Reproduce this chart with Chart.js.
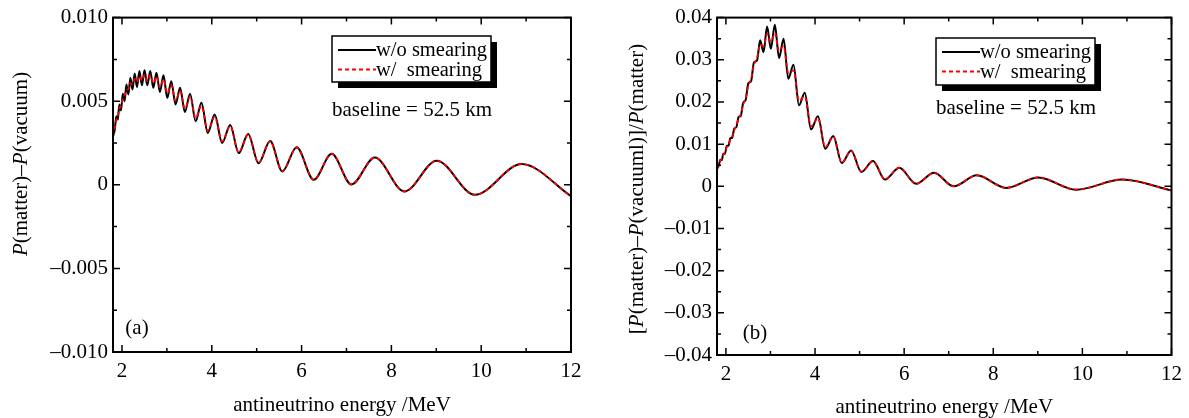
<!DOCTYPE html>
<html>
<head>
<meta charset="utf-8">
<script src="https://cdn.jsdelivr.net/npm/chart.js@4.4.0/dist/chart.umd.min.js"></script>
<style>
    html, body { margin: 0; padding: 0; background: #fff; }
    #wrap { position: relative; width: 1189px; height: 418px; }
    canvas { position: absolute; top: 0; }
</style>
</head>
<body>
<div id="wrap">
    <canvas id="chartA" width="594" height="418" style="left:0"></canvas>
    <canvas id="chartB" width="595" height="418" style="left:594px"></canvas>
</div>
<script>
// Antineutrino energy (MeV), read at the oscillation extrema
const energy = [1.80, 1.840, 1.873, 1.907, 1.942, 1.979, 2.018, 2.058, 2.099, 2.142,
    2.187, 2.234, 2.283, 2.334, 2.388, 2.444, 2.502, 2.564, 2.629, 2.697,
    2.768, 2.844, 2.924, 3.008, 3.098, 3.193, 3.294, 3.40, 3.516, 3.64,
    3.77, 3.91, 4.065, 4.23, 4.41, 4.60, 4.81, 5.04, 5.30, 5.57,
    5.89, 6.27, 6.67, 7.11, 7.63, 8.29, 9.01, 9.86, 10.90, 12.0];

// (a) P(matter) - P(vacuum)
const diffNoSmear = [0.0029, 0.0033, 0.0041, 0.0039, 0.0048, 0.00445, 0.00545, 0.0050, 0.0060, 0.0054,
    0.0064, 0.0057, 0.00665, 0.00585, 0.0068, 0.00595, 0.00685, 0.00595, 0.0068, 0.0058,
    0.0067, 0.00555, 0.00655, 0.0052, 0.0062, 0.0048, 0.0058, 0.00435, 0.00545, 0.0038,
    0.0049, 0.0031, 0.0042, 0.0025, 0.00357, 0.00189, 0.00304, 0.00129, 0.00262, 0.0008,
    0.00224, 0.0003, 0.00185, 0.00002, 0.00163, -0.0004, 0.00144, -0.0006, 0.00124, -0.00068];
const diffSmear = [0.0029, 0.0034, 0.00386, 0.00414, 0.00456, 0.00473, 0.00517, 0.00532, 0.00568, 0.00572,
    0.00608, 0.0060, 0.00634, 0.00616, 0.00651, 0.00624, 0.00658, 0.00621, 0.00657, 0.00607,
    0.00647, 0.00582, 0.0063, 0.00547, 0.00596, 0.00503, 0.00561, 0.00456, 0.00526, 0.0040,
    0.00472, 0.00324, 0.00407, 0.0026, 0.0035, 0.00195, 0.0030, 0.00133, 0.0026, 0.00082,
    0.00223, 0.0003, 0.00185, 0.00002, 0.00163, -0.0004, 0.00144, -0.0006, 0.00124, -0.00068];

// (b) [P(matter) - P(vacuum)] / P(matter)
const ratioNoSmear = [0.0042, 0.0049, 0.0063, 0.0062, 0.0077, 0.0077, 0.0096, 0.0096, 0.0114, 0.0115,
    0.0137, 0.0140, 0.0164, 0.0167, 0.0198, 0.0205, 0.0244, 0.0249, 0.0294, 0.0298,
    0.0346, 0.0318, 0.0379, 0.0326, 0.0383, 0.0304, 0.0350, 0.0255, 0.0288, 0.0192,
    0.0222, 0.0135, 0.0166, 0.0089, 0.0119, 0.0055, 0.0085, 0.0034, 0.0060, 0.0016,
    0.0044, 0.0006, 0.0032, 0.0000, 0.0026, -0.0004, 0.0021, -0.0008, 0.0016, -0.0010];
const ratioSmear = [0.0042, 0.0052, 0.0060, 0.0065, 0.0074, 0.0080, 0.0093, 0.0099, 0.0111, 0.0119,
    0.0133, 0.0144, 0.0160, 0.0171, 0.0194, 0.0209, 0.0239, 0.0254, 0.0288, 0.0304,
    0.0336, 0.0332, 0.0362, 0.0343, 0.0363, 0.0321, 0.0333, 0.0269, 0.0275, 0.0203,
    0.0213, 0.0142, 0.0161, 0.0093, 0.0117, 0.0056, 0.0084, 0.0035, 0.0059, 0.0017,
    0.0044, 0.0006, 0.0032, 0.0000, 0.0026, -0.0004, 0.0021, -0.0008, 0.0016, -0.0010];

// Tick values
const xTicks = [2, 4, 6, 8, 10, 12];
const xMinorTicks = [3, 5, 7, 9, 11];
const yTicksA = [-0.010, -0.005, 0, 0.005, 0.010];
const yMinorA = [-0.0075, -0.0025, 0.0025, 0.0075];
const yTicksB = [-0.04, -0.03, -0.02, -0.01, 0, 0.01, 0.02, 0.03, 0.04];
const yMinorB = [-0.035, -0.025, -0.015, -0.005, 0.005, 0.015, 0.025, 0.035];

const seriesLabels = ['w/o smearing', 'w/  smearing'];
const FONT = '"Liberation Serif", "DejaVu Serif", serif';
const TXT = '21px ' + FONT;

function fmt(v, digits) {
    if (Math.abs(v) < 1e-9) return '0';
    return (v < 0 ? '\u2013' : '') + Math.abs(v).toFixed(digits);
}

function toPoints(ys) {
    return energy.map((e, i) => ({ x: e, y: ys[i] }));
}

// Draws frame, inward ticks on all four sides, titles, legend box and notes
const decorPlugin = {
    id: 'decor',
    afterDraw(chart) {
        const o = chart.options.plugins.decor;
        const ctx = chart.ctx;
        const a = chart.chartArea;
        const xs = chart.scales.x, ys = chart.scales.y;
        ctx.save();
        ctx.strokeStyle = '#000';

        // tick marks
        ctx.lineWidth = 1.5;
        ctx.beginPath();
        const xt = (v, len) => {
            const p = xs.getPixelForValue(v);
            ctx.moveTo(p, a.bottom); ctx.lineTo(p, a.bottom - len);
            ctx.moveTo(p, a.top); ctx.lineTo(p, a.top + len);
        };
        const yt = (v, len) => {
            const p = ys.getPixelForValue(v);
            ctx.moveTo(a.left, p); ctx.lineTo(a.left + len, p);
            ctx.moveTo(a.right, p); ctx.lineTo(a.right - len, p);
        };
        xTicks.forEach(v => xt(v, 7));
        xMinorTicks.forEach(v => xt(v, 4));
        o.yMajor.forEach(v => yt(v, 7));
        o.yMinor.forEach(v => yt(v, 4));
        ctx.stroke();

        // frame
        ctx.lineWidth = 2;
        ctx.strokeRect(a.left, a.top, a.right - a.left, a.bottom - a.top);

        ctx.fillStyle = '#000';
        ctx.textBaseline = 'middle';

        // x title
        ctx.font = TXT;
        ctx.textAlign = 'center';
        ctx.fillText('antineutrino energy /MeV', (a.left + a.right) / 2, o.xTitleY);

        // y title with italic P
        ctx.save();
        ctx.translate(o.yTitleX, o.yTitleY);
        ctx.rotate(-Math.PI / 2);
        let total = 0;
        o.yTitle.forEach(seg => {
            ctx.font = (seg.italic ? 'italic ' : '') + TXT;
            total += ctx.measureText(seg.t).width;
        });
        let cx = -total / 2;
        ctx.textAlign = 'left';
        o.yTitle.forEach(seg => {
            ctx.font = (seg.italic ? 'italic ' : '') + TXT;
            ctx.fillText(seg.t, cx, 0);
            cx += ctx.measureText(seg.t).width;
        });
        ctx.restore();

        // legend box with shadow
        const b = o.legend;
        ctx.fillStyle = '#000';
        ctx.fillRect(b.x + 6, b.y + 6, b.w, b.h);
        ctx.fillStyle = '#fff';
        ctx.fillRect(b.x, b.y, b.w, b.h);
        ctx.lineWidth = 1.5;
        ctx.strokeRect(b.x, b.y, b.w, b.h);
        [0, 1].forEach(i => {
            const ds = chart.data.datasets[i];
            const y = b.y + 14 + i * 19.5;
            ctx.strokeStyle = ds.borderColor;
            ctx.lineWidth = ds.borderWidth;
            ctx.setLineDash(ds.borderDash || []);
            ctx.beginPath();
            ctx.moveTo(b.x + 6, y); ctx.lineTo(b.x + 44, y);
            ctx.stroke();
            ctx.setLineDash([]);
            ctx.fillStyle = '#000';
            ctx.font = '20.5px ' + FONT;
            ctx.textAlign = 'left';
            ctx.fillText(ds.label, b.x + 44, y + 1);
        });

        // notes
        ctx.fillStyle = '#000';
        ctx.font = TXT;
        ctx.textAlign = 'center';
        ctx.fillText('baseline = 52.5 km', o.baseline.x, o.baseline.y);
        ctx.fillText(o.panel.t, o.panel.x, o.panel.y);
        ctx.restore();
    }
};

function makeChart(id, noSmear, smear, yMin, yMax, yMajor, yMinor, digits, dims, decor) {
    const ctx = document.getElementById(id).getContext('2d');
    return new Chart(ctx, {
        type: 'line',
        data: {
            datasets: [
                {
                    label: seriesLabels[0],
                    data: toPoints(noSmear),
                    borderColor: '#000',
                    borderWidth: 2,
                    pointRadius: 0,
                    order: 2,
                    cubicInterpolationMode: 'monotone'
                },
                {
                    label: seriesLabels[1],
                    data: toPoints(smear),
                    borderColor: '#ff0000',
                    borderWidth: 1.8,
                    borderDash: [4, 3],
                    pointRadius: 0,
                    order: 1,
                    cubicInterpolationMode: 'monotone'
                }
            ]
        },
        options: {
            responsive: false,
            animation: false,
            devicePixelRatio: 1,
            layout: { padding: { left: 0, top: dims.top, right: dims.right, bottom: 0 } },
            plugins: {
                legend: { display: false },
                tooltip: { enabled: false },
                decor: Object.assign({ yMajor: yMajor, yMinor: yMinor }, decor)
            },
            scales: {
                x: {
                    type: 'linear',
                    min: 1.8,
                    max: 12,
                    grid: { display: false, drawTicks: false },
                    border: { display: false },
                    afterBuildTicks: s => { s.ticks = xTicks.map(v => ({ value: v })); },
                    afterFit: s => { s.height = dims.xh; },
                    ticks: {
                        padding: 7,
                        maxRotation: 0,
                        color: '#000',
                        font: { family: FONT, size: 21 },
                        callback: v => String(v)
                    }
                },
                y: {
                    type: 'linear',
                    min: yMin,
                    max: yMax,
                    grid: { display: false, drawTicks: false },
                    border: { display: false },
                    afterBuildTicks: s => { s.ticks = yMajor.map(v => ({ value: v })); },
                    afterFit: s => { s.width = dims.yw; },
                    ticks: {
                        padding: 5,
                        color: '#000',
                        font: { family: FONT, size: 21 },
                        callback: v => fmt(v, digits)
                    }
                }
            }
        },
        plugins: [decorPlugin]
    });
}

makeChart('chartA', diffNoSmear, diffSmear, -0.010, 0.010, yTicksA, yMinorA, 3,
    { top: 15, right: 23, xh: 66, yw: 113 },
    {
        xTitleY: 405,
        yTitleX: 21, yTitleY: 164,
        yTitle: [{ t: 'P', italic: true }, { t: '(matter)\u2013' }, { t: 'P', italic: true }, { t: '(vacuum)' }],
        legend: { x: 332, y: 36, w: 159, h: 46 },
        baseline: { x: 412, y: 110 },
        panel: { t: '(a)', x: 137, y: 328 }
    });

makeChart('chartB', ratioNoSmear, ratioSmear, -0.04, 0.04, yTicksB, yMinorB, 2,
    { top: 17, right: 16, xh: 63, yw: 123 },
    {
        xTitleY: 407,
        yTitleX: 43, yTitleY: 189,
        yTitle: [{ t: '[' }, { t: 'P', italic: true }, { t: '(matter)\u2013' }, { t: 'P', italic: true },
            { t: '(vacuuml)]/' }, { t: 'P', italic: true }, { t: '(matter)' }],
        legend: { x: 342, y: 38, w: 159, h: 47 },
        baseline: { x: 422, y: 108 },
        panel: { t: '(b)', x: 161, y: 333 }
    });
</script>
</body>
</html>
